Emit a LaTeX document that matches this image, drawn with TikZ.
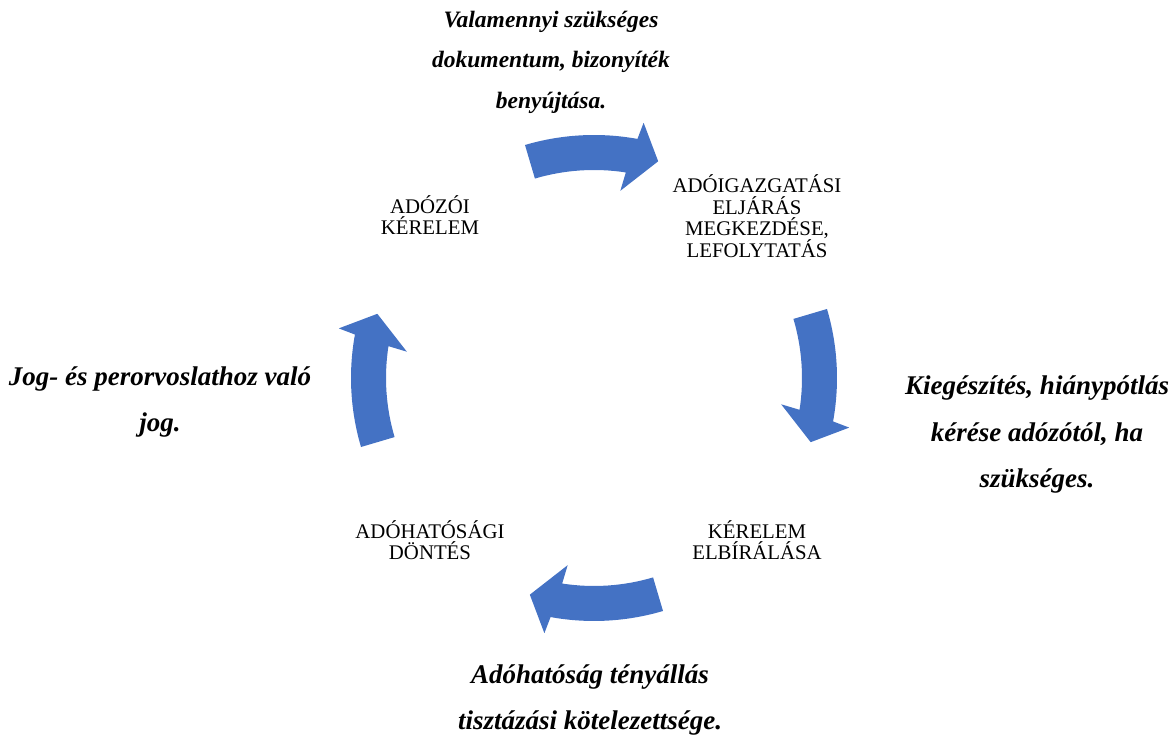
\documentclass[tikz,border=0pt]{standalone}
\usepackage{fontspec}
\setmainfont{Liberation Serif}
\usetikzlibrary{calc}
\definecolor{arrowblue}{HTML}{4472C4}
\tikzset{
  steptext/.style={align=center, inner sep=0pt, font=\fontsize{20.8}{21.6}\selectfont},
  notelabel/.style={align=center, inner sep=0pt, font=\fontsize{27}{46.5}\selectfont\bfseries\itshape},
  notelabeltop/.style={align=center, inner sep=0pt, font=\fontsize{23.5}{40.5}\selectfont\bfseries\itshape},
  arrowfill/.style={fill=arrowblue}
}
\begin{document}
\begin{tikzpicture}[x=1pt,y=1pt]
\useasboundingbox (0,0) rectangle (1171,735);
\coordinate (C) at (594,357);
\foreach \t in {90,0,-90,180}{
  \fill[arrowfill]
    ($(C)+(\t+16.5:243pt)$) arc[start angle=\t+16.5, end angle=\t-10.3, radius=243pt]
    -- ($(C)+(\t-11:260pt)$)
    -- ($(C)+(\t-16.5:226pt)$)
    -- ($(C)+(\t-8:189pt)$)
    -- ($(C)+(\t-8.8:208pt)$)
    arc[start angle=\t-8.8, end angle=\t+16.5, radius=208pt]
    -- cycle;
}
\node[steptext] (kerelem) at (430,520) {ADÓZÓI\\KÉRELEM};
\node[steptext] (eljaras) at (757,519) {ADÓIGAZGATÁSI\\ELJÁRÁS\\MEGKEZDÉSE,\\LEFOLYTATÁS};
\node[steptext] (elbiralas) at (757,195) {KÉRELEM\\ELBÍRÁLÁSA};
\node[steptext] (dontes) at (430,195) {ADÓHATÓSÁGI\\DÖNTÉS};
\node[notelabeltop] (dok) at (551,673) {Valamennyi szükséges\\dokumentum, bizonyíték\\benyújtása.};
\node[notelabel] (hiany) at (1037,300) {Kiegészítés, hiánypótlás\\kérése adózótól, ha\\szükséges.};
\node[notelabel] (teny) at (590,35) {Adóhatóság tényállás\\tisztázási kötelezettsége.};
\node[notelabel] (jog) at (160,333) {Jog- és perorvoslathoz való\\jog.};
\end{tikzpicture}
\end{document}
